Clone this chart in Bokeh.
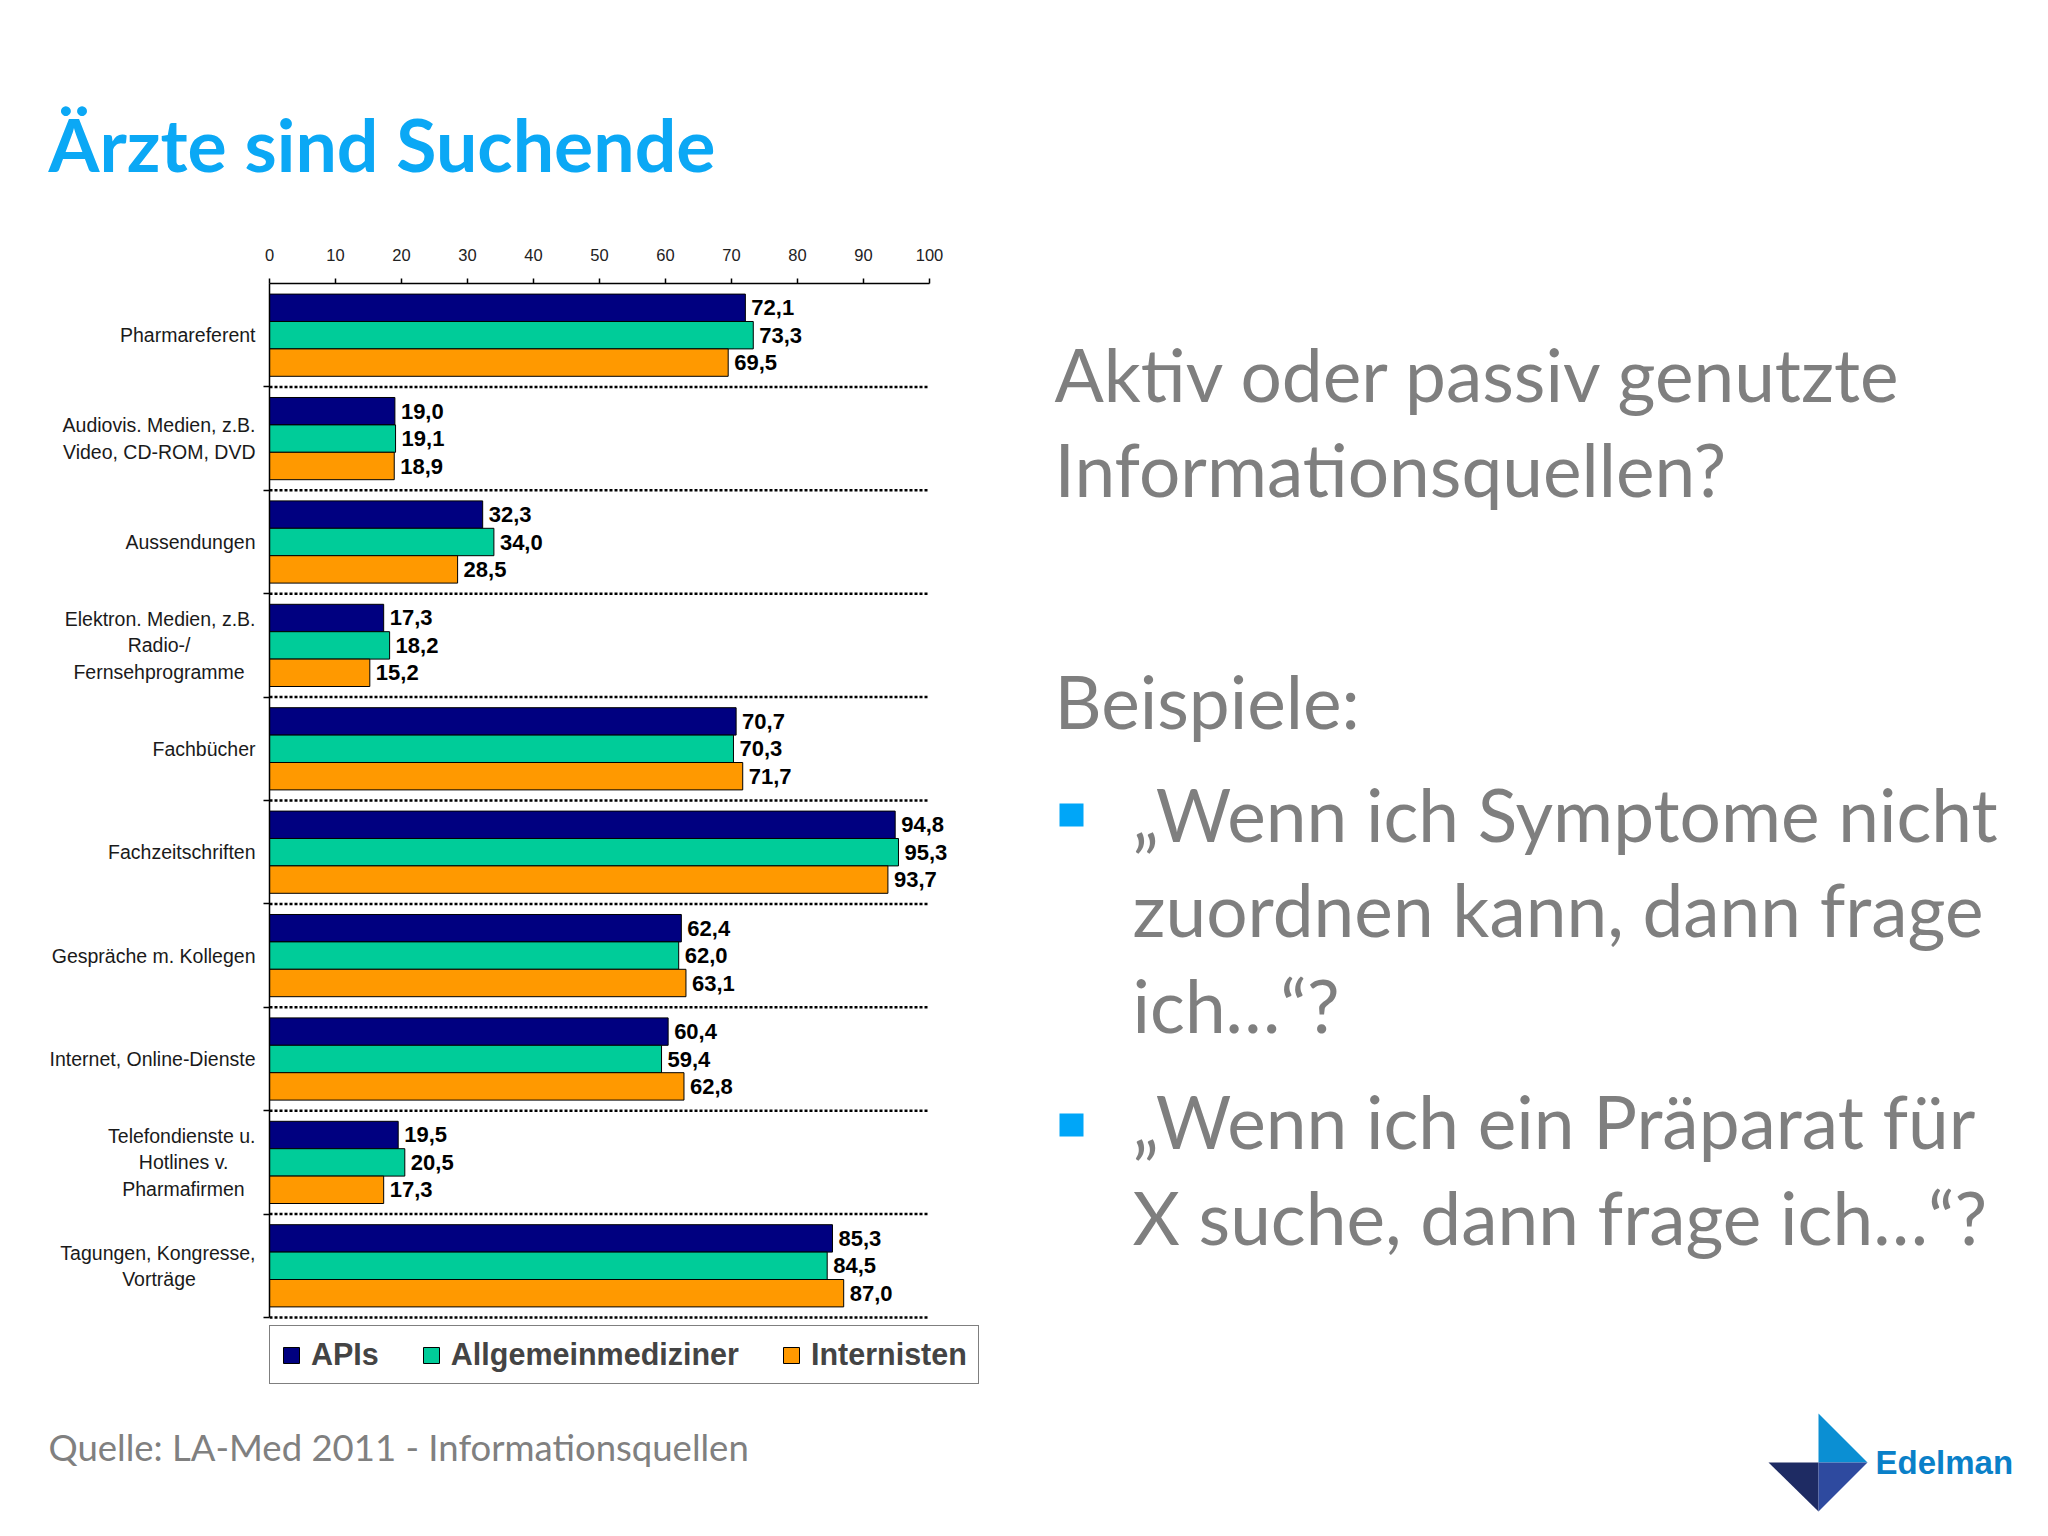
from bokeh.plotting import figure
from bokeh.layouts import row, column
from bokeh.models import (Range1d, FixedTicker, ColumnDataSource, LabelSet, Label,
                          PolyAnnotation, Legend, LegendItem, Spacer)
from bokeh.transform import dodge
from bokeh.core.properties import value
from bokeh.embed import file_html
from bokeh.resources import INLINE

NB = "\u00a0"  # used to centre the shorter lines of multi-line category labels

# ---------------- data ----------------
categories = [
    "Pharmareferent",
    "Audiovis. Medien, z.B.\nVideo, CD-ROM, DVD",
    "Aussendungen",
    "Elektron. Medien, z.B.\nRadio-/" + NB * 12 + "\nFernsehprogramme" + NB * 2,
    "Fachbücher",
    "Fachzeitschriften",
    "Gespräche m. Kollegen",
    "Internet, Online-Dienste",
    "Telefondienste u.\nHotlines v." + NB * 5 + "\nPharmafirmen" + NB * 2,
    "Tagungen, Kongresse,\nVorträge" + NB * 11,
]
apis = [72.1, 19.0, 32.3, 17.3, 70.7, 94.8, 62.4, 60.4, 19.5, 85.3]
allgemeinmediziner = [73.3, 19.1, 34.0, 18.2, 70.3, 95.3, 62.0, 59.4, 20.5, 84.5]
internisten = [69.5, 18.9, 28.5, 15.2, 71.7, 93.7, 63.1, 62.8, 17.3, 87.0]
series_names = ["APIs", "Allgemeinmediziner", "Internisten"]
x_ticks = [0, 10, 20, 30, 40, 50, 60, 70, 80, 90, 100]

title_text = "Ärzte sind Suchende"
intro_lines = ["Aktiv oder passiv genutzte", "Informationsquellen?"]
examples_head = "Beispiele:"
bullet1_lines = ["„Wenn ich Symptome nicht", "zuordnen kann, dann frage", "ich…“?"]
bullet2_lines = ["„Wenn ich ein Präparat für", "X suche, dann frage ich…“?"]
source_text = "Quelle: LA-Med 2011 - Informationsquellen"
logo_text = "Edelman"

# ---------------- styles ----------------
colors = ["#000080", "#00CC99", "#FF9900"]
BLUE = "#0BA8F5"
GRAY = "#7F7F7F"
CHART_FONT = "Liberation Sans"
SLIDE_FONT = "Lato"

W, H = 2032, 1520
LEFT_W = 1040
TITLE_H = 210
CHART_H = 1200
FOOT_H = H - TITLE_H - CHART_H
PAD_X = 2            # small spacer so the chart's left edge is not shared

# chart frame (page px)
FL, FT = 269, 283
X100 = 929          # page x of value 100
YB = 1317           # page y of bottom band boundary
FR, FB = 1000, 1400  # frame right / bottom (room for labels + legend)

n = len(categories)
pos = [n - 1 - i for i in range(n)]
band = (YB - FT) / n
fmt = lambda v: f"{v:.1f}".replace(".", ",")

src = ColumnDataSource(dict(
    pos=pos,
    apis=apis, allg=allgemeinmediziner, intern=internisten,
    apis_l=[fmt(v) for v in apis],
    allg_l=[fmt(v) for v in allgemeinmediziner],
    intern_l=[fmt(v) for v in internisten],
))
sep = ColumnDataSource(dict(y=[k - 0.5 for k in range(n)],
                            x0=[0] * n, x1=[100] * n))

x_end = 100 * (FR - FL) / (X100 - FL)
y_start = -0.5 - (FB - YB) / band

CW = LEFT_W - PAD_X
BT = FT - TITLE_H
BB = TITLE_H + CHART_H - FB
p = figure(width=CW, height=CHART_H,
           x_range=Range1d(0, x_end), y_range=Range1d(y_start, n - 0.5),
           x_axis_location="above",
           output_backend="svg", toolbar_location=None,
           min_border_left=FL - PAD_X, min_border_right=LEFT_W - FR,
           min_border_top=BT, min_border_bottom=BB)
p.outline_line_color = None
p.background_fill_color = "white"
p.border_fill_color = "white"

p.segment(x0="x0", x1="x1", y0="y", y1="y", source=sep,
          line_color="black", line_width=2.5, line_dash="3 2")

BH = 0.265
cols = ["apis", "allg", "intern"]
offs = [BH, 0.0, -BH]
items = []
for c, off, col, name in zip(cols, offs, colors, series_names):
    r = p.hbar(y=dodge("pos", off), left=0, right=c, height=BH, source=src,
               fill_color=col, line_color="black", line_width=1)
    items.append(LegendItem(label=name, renderers=[r]))
    p.add_layout(LabelSet(x=c, y=dodge("pos", off), text=c + "_l", source=src,
                          x_offset=6, text_baseline="middle",
                          text_font=value(CHART_FONT), text_font_size="22px",
                          text_font_style="bold", text_color="black"))

# x axis (top)
xa = p.xaxis[0]
xa.ticker = FixedTicker(ticks=x_ticks, minor_ticks=[])
xa.bounds = (0, 100)
xa.axis_line_color = "black"
xa.axis_line_width = 1.5
xa.major_tick_in = 0
xa.major_tick_out = 5
xa.major_tick_line_width = 1.5
xa.major_label_standoff = 18
xa.major_label_text_font = CHART_FONT
xa.major_label_text_font_size = "16.5px"
xa.major_label_text_color = "#222222"

# y axis (categories)
ya = p.yaxis[0]
ya.ticker = FixedTicker(ticks=pos, minor_ticks=[k - 0.5 for k in range(n)])
ya.bounds = (-0.5, n - 0.5)
ya.major_label_overrides = {k: lab for k, lab in zip(pos, categories)}
ya.axis_line_color = "black"
ya.axis_line_width = 1.5
ya.major_tick_line_color = None
ya.major_tick_in = 0
ya.major_tick_out = 0
ya.minor_tick_in = 0
ya.minor_tick_out = 6
ya.minor_tick_line_width = 1.5
ya.major_label_standoff = 8
ya.major_label_text_font = CHART_FONT
ya.major_label_text_font_size = "19.5px"
ya.major_label_text_color = "#1a1a1a"

p.xgrid.grid_line_color = None
p.ygrid.grid_line_color = None

lg = Legend(items=items, orientation="horizontal", location=(0, FB - 1384),
            glyph_width=20, glyph_height=20, label_standoff=10, spacing=42,
            padding=11, margin=0,
            label_text_font=CHART_FONT, label_text_font_size="30.5px",
            label_text_font_style="bold",
            border_line_color="black", border_line_width=1.5,
            background_fill_color="white", background_fill_alpha=1)
p.add_layout(lg, "center")


# ---------------- slide parts (page-pixel data coordinates) ----------------
def canvas(x0, x1, y0, y1, fy0=None, fy1=None, bt=0, bb=0):
    fy0 = y0 if fy0 is None else fy0
    fy1 = y1 if fy1 is None else fy1
    f = figure(width=x1 - x0, height=y1 - y0,
               x_range=Range1d(x0, x1), y_range=Range1d(fy1, fy0),
               x_axis_type=None, y_axis_type=None, min_border=0,
               min_border_top=bt, min_border_bottom=bb,
               output_backend="svg", toolbar_location=None)
    f.outline_line_color = None
    f.grid.visible = False
    f.background_fill_color = "white"
    f.border_fill_color = "white"
    return f


LATO_K = 0.435   # label anchor sits this many em above the baseline
LIB_K = 0.35


def text(f, t, X, Y, size, color, font=SLIDE_FONT, style="normal"):
    k = LATO_K if font == SLIDE_FONT else LIB_K
    f.add_layout(Label(x=X, y=Y - k * size, text=t, text_font=font,
                       text_font_size=f"{size}px",
                       text_font_style=style, text_color=color,
                       text_baseline="alphabetic", text_align="left"))


def poly(f, pts, color):
    f.add_layout(PolyAnnotation(xs=[x for x, y in pts], ys=[y for x, y in pts],
                                fill_color=color, fill_alpha=1, line_color=None))


ft = canvas(0, W, 0, TITLE_H)
text(ft, title_text, 48, 175, 73.4, BLUE, style="bold")

ff = canvas(0, W, TITLE_H + CHART_H, H)
text(ff, source_text, 48, 1462, 36.5, "#808080")
cx, cy = 1818, 1462
poly(ff, [(cx, cy), (cx, 1413), (1867, cy)], "#0B8FD3")
poly(ff, [(1768, cy), (cx, cy), (cx, 1511)], "#1E2B63")
poly(ff, [(cx, cy), (1867, cy), (cx, 1511)], "#2E4A9F")
text(ff, logo_text, 1875, 1474, 33, "#0A80C8", font=CHART_FONT, style="bold")

fr = canvas(LEFT_W, W, TITLE_H, TITLE_H + CHART_H, fy0=FT, fy1=FB, bt=BT, bb=BB)
for t, yb in zip(intro_lines, [405, 500]):
    text(fr, t, 1054, yb, 73, GRAY)
text(fr, examples_head, 1054, 732, 73, GRAY)
for t, yb in zip(bullet1_lines, [845, 940, 1036]):
    text(fr, t, 1132, yb, 73, GRAY)
for t, yb in zip(bullet2_lines, [1152, 1248]):
    text(fr, t, 1132, yb, 73, GRAY)
poly(fr, [(1059, 803), (1083, 803), (1083, 826), (1059, 826)], "#00A6F8")
poly(fr, [(1059, 1113), (1083, 1113), (1083, 1136), (1059, 1136)], "#00A6F8")

layout = column(ft, row(Spacer(width=PAD_X, height=CHART_H), p, fr), ff)
open("out.html", "w").write(file_html(layout, INLINE))
